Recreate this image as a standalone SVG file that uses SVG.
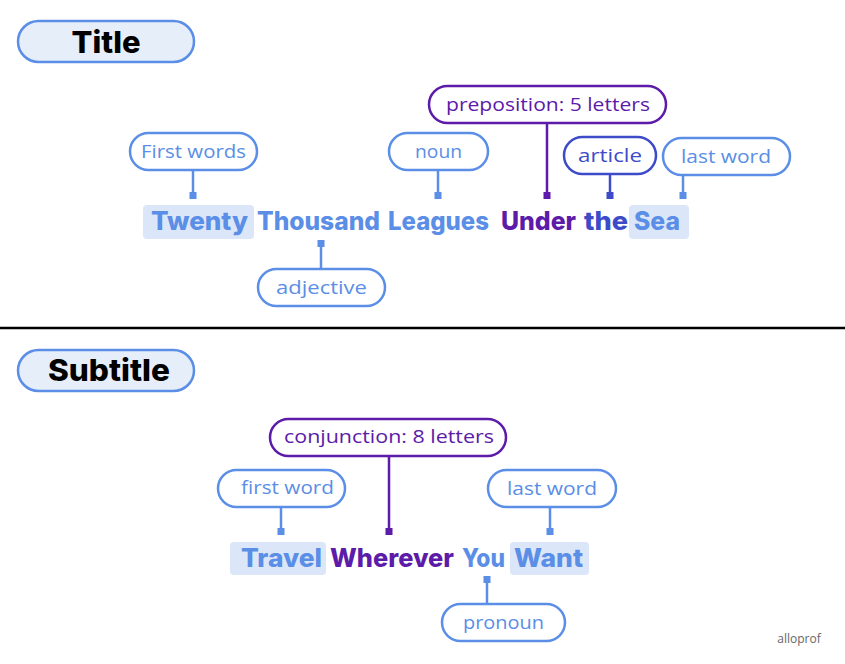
<svg xmlns="http://www.w3.org/2000/svg" width="845" height="664" viewBox="0 0 845 664">
<style>
.hdr{fill:#e6eefa;stroke:#5b8ee6;stroke-width:2.5}
.hdrt{font-family:Inter,"Open Sans",sans-serif;font-weight:800;font-size:30px;fill:#000;text-anchor:middle}
.lb{fill:#fff;stroke:#5b8ee6;stroke-width:2.5}
.lp{fill:#fff;stroke:#5c1ba8;stroke-width:2.5}
.ld{fill:#fff;stroke:#3d4bc9;stroke-width:2.5}
.lt{font-family:"Open Sans","Noto Sans",sans-serif;font-size:18px;text-anchor:middle}
.wt{font-family:Inter,"Open Sans",sans-serif;font-weight:800;font-size:25.5px}
.hl{fill:#dbe6f8}
.cb{stroke:#5b8ee6;stroke-width:2.5;fill:none}
.cp{stroke:#5c1ba8;stroke-width:2.5;fill:none}
.cd{stroke:#3d4bc9;stroke-width:2.5;fill:none}
.b{fill:#5b8ee6}
.p{fill:#5c1ba8}
.d{fill:#3d4bc9}
</style>
<rect width="845" height="664" fill="#fff"/>

<g id="header-title">
<rect class="hdr" x="18" y="21" width="176" height="41" rx="20.5"/>
<text class="hdrt" x="106" y="53" textLength="69" lengthAdjust="spacingAndGlyphs">Title</text>
</g>
<line x1="0" y1="328" x2="845" y2="328" stroke="#000" stroke-width="2.5"/>
<g id="header-subtitle">
<rect class="hdr" x="18" y="350" width="176" height="41" rx="20.5"/>
<text class="hdrt" x="109" y="381" textLength="122" lengthAdjust="spacingAndGlyphs">Subtitle</text>
</g>

<g id="title-sentence">
<rect class="hl" x="143" y="205" width="111" height="34" rx="4"/>
<rect class="hl" x="629" y="205" width="60" height="34" rx="4"/>
<text class="wt b" x="151" y="230" textLength="97" lengthAdjust="spacingAndGlyphs">Twenty</text>
<text class="wt b" x="257" y="230" textLength="123" lengthAdjust="spacingAndGlyphs">Thousand</text>
<text class="wt b" x="388" y="230" textLength="101" lengthAdjust="spacingAndGlyphs">Leagues</text>
<text class="wt p" x="501" y="230" textLength="75" lengthAdjust="spacingAndGlyphs">Under</text>
<text class="wt d" x="584" y="230" textLength="44" lengthAdjust="spacingAndGlyphs">the</text>
<text class="wt b" x="634" y="230" textLength="46" lengthAdjust="spacingAndGlyphs">Sea</text>
</g>

<g id="subtitle-sentence">
<rect class="hl" x="230" y="542" width="96" height="33" rx="4"/>
<rect class="hl" x="510" y="542" width="79" height="33" rx="4"/>
<text class="wt b" x="241" y="567" textLength="81" lengthAdjust="spacingAndGlyphs">Travel</text>
<text class="wt p" x="330" y="567" textLength="124" lengthAdjust="spacingAndGlyphs">Wherever</text>
<text class="wt b" x="462" y="567" textLength="43" lengthAdjust="spacingAndGlyphs">You</text>
<text class="wt b" x="514" y="567" textLength="69" lengthAdjust="spacingAndGlyphs">Want</text>
</g>

<g id="connectors">
<line class="cb" x1="193" y1="171" x2="193" y2="196"/><rect class="b" x="189.5" y="192" width="7" height="7"/>
<line class="cb" x1="438" y1="171" x2="438" y2="196"/><rect class="b" x="434.5" y="192" width="7" height="7"/>
<line class="cp" x1="547" y1="124" x2="547" y2="196"/><rect class="p" x="543.5" y="192" width="7" height="7"/>
<line class="cd" x1="610" y1="175" x2="610" y2="196"/><rect class="d" x="606.5" y="192" width="7" height="7"/>
<line class="cb" x1="683" y1="176" x2="683" y2="196"/><rect class="b" x="679.5" y="192" width="7" height="7"/>
<line class="cb" x1="321" y1="244" x2="321" y2="269"/><rect class="b" x="317.5" y="240" width="7" height="7"/>
<line class="cb" x1="281" y1="507" x2="281" y2="532"/><rect class="b" x="277.5" y="528" width="7" height="7"/>
<line class="cp" x1="389" y1="456" x2="389" y2="532"/><rect class="p" x="385.5" y="528" width="7" height="7"/>
<line class="cb" x1="550" y1="507" x2="550" y2="532"/><rect class="b" x="546.5" y="528" width="7" height="7"/>
<line class="cb" x1="487" y1="580" x2="487" y2="604"/><rect class="b" x="483.5" y="576" width="7" height="7"/>
</g>

<g id="label-first-words">
<rect class="lb" x="130" y="133" width="127" height="37" rx="18.5"/>
<text class="lt b" x="193.5" y="158" textLength="105" lengthAdjust="spacingAndGlyphs">First words</text>
</g>
<g id="label-noun">
<rect class="lb" x="389" y="133" width="99" height="37" rx="18.5"/>
<text class="lt b" x="438.5" y="158" textLength="47" lengthAdjust="spacingAndGlyphs">noun</text>
</g>
<g id="label-preposition">
<rect class="lp" x="429" y="86" width="237" height="37" rx="18.5"/>
<text class="lt p" x="548" y="111" textLength="204" lengthAdjust="spacingAndGlyphs">preposition: 5 letters</text>
</g>
<g id="label-article">
<rect class="ld" x="564" y="137" width="92" height="37" rx="18.5"/>
<text class="lt d" x="610" y="162" textLength="64" lengthAdjust="spacingAndGlyphs">article</text>
</g>
<g id="label-last-word-title">
<rect class="lb" x="663" y="138" width="127" height="37" rx="18.5"/>
<text class="lt b" x="726" y="163" textLength="90" lengthAdjust="spacingAndGlyphs">last word</text>
</g>
<g id="label-adjective">
<rect class="lb" x="258" y="269" width="127" height="37" rx="18.5"/>
<text class="lt b" x="321.5" y="294" textLength="91" lengthAdjust="spacingAndGlyphs">adjective</text>
</g>
<g id="label-conjunction">
<rect class="lp" x="270" y="419" width="236" height="37" rx="18.5"/>
<text class="lt p" x="389" y="443" textLength="210" lengthAdjust="spacingAndGlyphs">conjunction: 8 letters</text>
</g>
<g id="label-first-word">
<rect class="lb" x="218" y="470" width="127" height="37" rx="18.5"/>
<text class="lt b" x="287.5" y="494" textLength="93" lengthAdjust="spacingAndGlyphs">first word</text>
</g>
<g id="label-last-word-sub">
<rect class="lb" x="488" y="470" width="128" height="37" rx="18.5"/>
<text class="lt b" x="552" y="495" textLength="90" lengthAdjust="spacingAndGlyphs">last word</text>
</g>
<g id="label-pronoun">
<rect class="lb" x="442" y="604" width="123" height="37" rx="18.5"/>
<text class="lt b" x="503.5" y="629" textLength="81" lengthAdjust="spacingAndGlyphs">pronoun</text>
</g>

<text x="799" y="643" font-family="Open Sans, Noto Sans, sans-serif" font-size="12" fill="#666" text-anchor="middle">alloprof</text>
</svg>
